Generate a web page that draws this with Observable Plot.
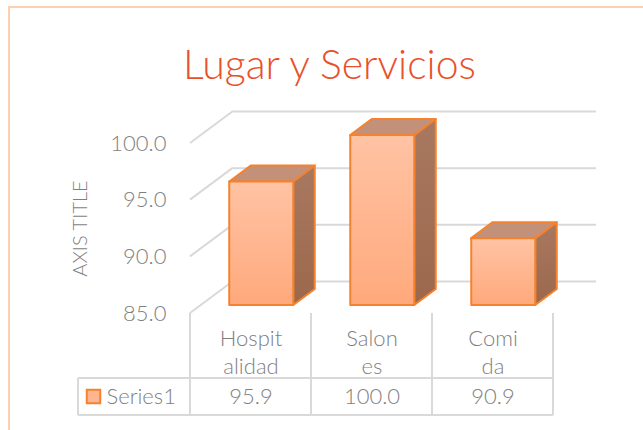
<!DOCTYPE html>
<html>
<head>
<meta charset="utf-8">
<script src="https://cdn.jsdelivr.net/npm/d3@7"></script>
<script src="https://cdn.jsdelivr.net/npm/@observablehq/plot@0.6"></script>
<style>
  html, body { margin: 0; padding: 0; background: #fff; }
  #wrap { position: relative; width: 643px; height: 430px; overflow: hidden; }
  #border { position: absolute; left: 8px; top: 6px; width: 700px; height: 500px; border: 2px solid #FFD0B0; box-sizing: border-box; }
  #chart { position: absolute; left: 0; top: 0; }
</style>
</head>
<body>
<div id="wrap"><div id="border"></div><div id="chart"></div></div>
<script>
const title = "Lugar y Servicios";
const axisTitle = "AXIS TITLE";
const seriesName = "Series1";
const categories = ["Hospitalidad", "Salones", "Comida"];
const categoryLabels = ["Hospit\nalidad", "Salon\nes", "Comi\nda"];
const values = [95.9, 100.0, 90.9];
const yTicks = [85, 90, 95, 100];

const DX = 43, DY = -32;           // full depth offset of the 3D box
const gridColor = "#d9d9d9";
const orange = "#F4822E";
const textGray = "#7f7f7f";
const font = "Lato, 'Open Sans', sans-serif";

const rows = categories.map((c, i) => ({cat: c, label: categoryLabels[i], value: values[i]}));

function walls(index, scales) {
  const {x, y} = scales;
  const x0 = x.range()[0];
  const g = d3.create("svg:g");
  const defs = g.append("defs");
  const fg = defs.append("linearGradient").attr("id", "frontGrad").attr("x1", 0).attr("y1", 0).attr("x2", 0).attr("y2", 1);
  fg.append("stop").attr("offset", "0%").attr("stop-color", "#FFC3A4");
  fg.append("stop").attr("offset", "100%").attr("stop-color", "#FFA97C");
  const sg = defs.append("linearGradient").attr("id", "sideGrad").attr("x1", 0).attr("y1", 0).attr("x2", 0).attr("y2", 1);
  sg.append("stop").attr("offset", "0%").attr("stop-color", "#A87860");
  sg.append("stop").attr("offset", "100%").attr("stop-color", "#9C684C");
  g.selectAll("line").data(yTicks).join("line")
    .attr("x1", x0).attr("y1", d => y(d))
    .attr("x2", x0 + DX).attr("y2", d => y(d) + DY)
    .attr("stroke", gridColor).attr("stroke-width", 2);
  return g.node();
}

function boxes(index, scales) {
  const {x, y} = scales;
  const bw = x.bandwidth();
  const inset = 28.5;
  const f = 0.25, b = 0.75;
  const g = d3.create("svg:g").attr("stroke", orange).attr("stroke-width", 2).attr("stroke-linejoin", "round");
  rows.forEach(r => {
    const xl = x(r.cat) + inset + DX * f;
    const xr = x(r.cat) + bw - inset + DX * f;
    const yt = y(r.value) + DY * f;
    const yb = y(85) + DY * f;
    const ddx = DX * (b - f), ddy = DY * (b - f);
    g.append("polygon")
      .attr("points", [[xr, yb], [xr + ddx, yb + ddy], [xr + ddx, yt + ddy], [xr, yt]].join(" "))
      .attr("fill", "url(#sideGrad)");
    g.append("polygon")
      .attr("points", [[xl, yt], [xl + ddx, yt + ddy], [xr + ddx, yt + ddy], [xr, yt]].join(" "))
      .attr("fill", "#C3917A");
  });
  return g.node();
}

function table(index, scales) {
  const {x, y} = scales;
  const bw = x.bandwidth();
  const top = y(85), rowTop = y(85) + 65, rowBottom = y(85) + 102;
  const left = 78;
  const right = x(categories[categories.length - 1]) + bw;
  const edges = categories.map(c => x(c)).concat([right]);
  const g = d3.create("svg:g").attr("stroke", gridColor).attr("stroke-width", 2).attr("fill", "none");
  edges.forEach(e => g.append("line").attr("x1", e).attr("x2", e).attr("y1", top).attr("y2", rowBottom));
  g.append("line").attr("x1", left).attr("x2", left).attr("y1", rowTop).attr("y2", rowBottom);
  g.append("line").attr("x1", left).attr("x2", right).attr("y1", rowTop).attr("y2", rowTop);
  g.append("line").attr("x1", left).attr("x2", right).attr("y1", rowBottom).attr("y2", rowBottom);
  return g.node();
}

const plot = Plot.plot({
  width: 643,
  height: 430,
  marginLeft: 190,
  marginRight: 90,
  marginTop: 143,
  marginBottom: 117,
  style: {background: "transparent", fontFamily: font, fontSize: "22px", fontWeight: 300, color: textGray, overflow: "visible"},
  x: {type: "band", domain: categories, padding: 0, axis: null},
  y: {domain: [85, 100], ticks: yTicks, tickSize: 0, tickPadding: 24, tickFormat: d => d.toFixed(1), label: null},
  marks: [
    walls,
    Plot.ruleY(yTicks, {dx: DX, dy: DY, stroke: gridColor, strokeWidth: 2}),
    boxes,
    Plot.barY(rows, {x: "cat", y1: 85, y2: "value", insetLeft: 28.5, insetRight: 28.5, dx: DX * 0.25, dy: DY * 0.25,
      fill: "url(#frontGrad)", stroke: orange, strokeWidth: 2, strokeLinejoin: "round"}),
    table,
    Plot.text([title], {frameAnchor: "top", dx: 329 - 371.5, dy: -78, lineAnchor: "middle", fontSize: 41, fontWeight: 300, fill: "#E8502C"}),
    Plot.text([axisTitle], {frameAnchor: "left", textAnchor: "middle", rotate: -90, dx: -110, fontSize: 20, fill: textGray}),
    Plot.text(rows, {x: "cat", text: "label", frameAnchor: "bottom", lineAnchor: "top", dy: 13, lineHeight: 1.27, fontSize: 22, fill: textGray}),
    Plot.text(rows, {x: "cat", text: d => d.value.toFixed(1), frameAnchor: "bottom", lineAnchor: "middle", dy: 83, fontSize: 22, fill: textGray}),
    Plot.text([seriesName], {frameAnchor: "bottom-left", textAnchor: "start", lineAnchor: "middle", dx: 106 - 190, dy: 83, fontSize: 22, fill: textGray}),
    Plot.dot([seriesName], {frameAnchor: "bottom-left", dx: 93 - 190, dy: 396 - 313, symbol: "square", r: 7.6, fill: "#FFB690", stroke: orange, strokeWidth: 2})
  ]
});
document.getElementById("chart").appendChild(plot);
</script>
</body>
</html>
